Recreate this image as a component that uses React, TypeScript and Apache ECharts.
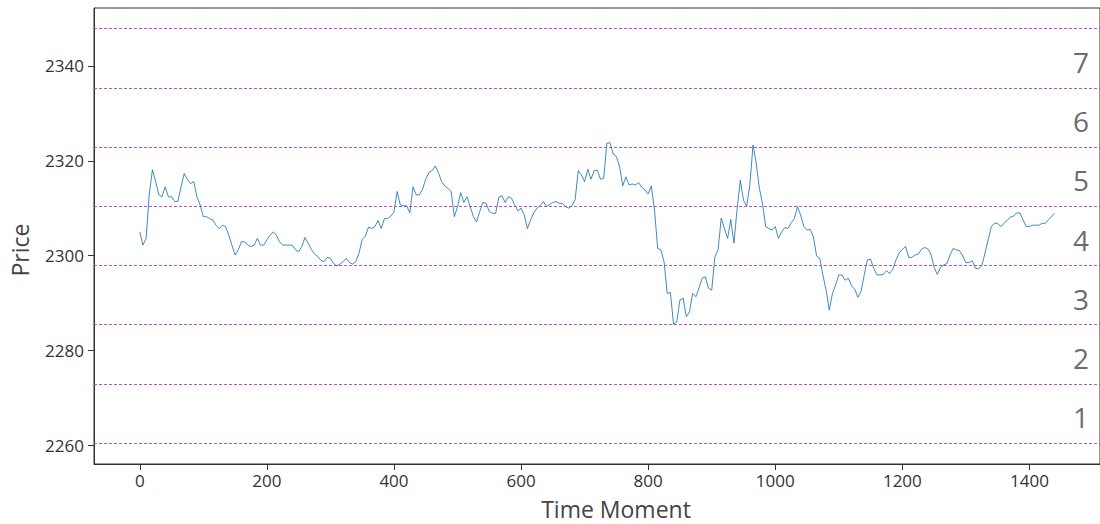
import React, { useEffect, useRef } from "react";
import * as echarts from "echarts";

// Price readings every 5 time moments (last one at 1439)
const PRICES: number[] = [
  2305.0, 2302.2, 2303.6, 2313.0, 2318.1, 2315.6, 2312.8, 2312.4, 2314.5, 2312.4,
  2312.4, 2311.4, 2311.4, 2314.5, 2317.3, 2316.0, 2315.2, 2315.6, 2312.4, 2310.7,
  2308.2, 2308.2, 2307.8, 2307.5, 2306.4, 2305.7, 2306.4, 2306.1, 2304.3, 2302.2,
  2300.1, 2301.2, 2302.9, 2302.9, 2302.2, 2301.9, 2302.2, 2303.6, 2302.2, 2302.2,
  2303.3, 2304.3, 2305.0, 2304.3, 2302.9, 2302.2, 2302.2, 2302.2, 2302.2, 2301.2,
  2300.8, 2301.9, 2303.8, 2302.6, 2301.3, 2300.3, 2299.8, 2299.0, 2298.7, 2299.6,
  2299.4, 2298.3, 2297.8, 2298.2, 2298.7, 2299.4, 2298.5, 2298.2, 2298.7, 2300.5,
  2303.4, 2304.1, 2306.0, 2305.7, 2306.1, 2307.4, 2305.7, 2307.8, 2307.8, 2308.3,
  2309.2, 2313.5, 2310.7, 2310.5, 2310.5, 2309.0, 2314.5, 2312.8, 2312.8, 2314.0,
  2316.1, 2317.5, 2317.9, 2318.9, 2317.5, 2315.6, 2314.7, 2314.2, 2313.5, 2308.2,
  2310.3, 2313.3, 2311.2, 2312.4, 2310.3, 2308.2, 2307.1, 2309.3, 2311.2, 2311.0,
  2309.3, 2308.9, 2308.9, 2312.3, 2312.6, 2311.2, 2312.4, 2312.1, 2310.7, 2309.4,
  2310.0, 2308.6, 2305.7, 2307.5, 2309.0, 2310.0, 2310.5, 2311.4, 2310.3, 2310.8,
  2311.2, 2311.4, 2311.0, 2311.0, 2310.3, 2310.0, 2310.5, 2311.7, 2317.9, 2317.0,
  2315.6, 2318.2, 2316.1, 2317.9, 2318.0, 2316.1, 2316.3, 2323.7, 2323.8, 2321.4,
  2320.9, 2318.8, 2314.7, 2316.6, 2314.9, 2315.1, 2314.9, 2315.4, 2314.4, 2313.8,
  2313.0, 2314.7, 2309.6, 2301.5, 2301.2, 2298.7, 2292.0, 2292.2, 2285.5, 2286.0,
  2290.6, 2291.0, 2287.1, 2288.1, 2292.0, 2291.3, 2293.1, 2295.2, 2295.5, 2293.1,
  2292.7, 2299.7, 2301.2, 2307.9, 2305.7, 2303.6, 2307.6, 2302.6, 2309.9, 2315.9,
  2311.7, 2310.4, 2314.9, 2323.3, 2319.5, 2314.2, 2310.9, 2306.1, 2305.7, 2305.4,
  2306.1, 2303.6, 2305.0, 2305.9, 2305.7, 2306.9, 2307.8, 2310.3, 2308.5, 2306.1,
  2305.4, 2305.5, 2304.0, 2299.9, 2299.4, 2295.9, 2292.7, 2288.5, 2292.0, 2293.8,
  2295.9, 2295.9, 2294.8, 2295.2, 2293.6, 2292.9, 2291.2, 2292.4, 2295.9, 2299.1,
  2299.2, 2297.3, 2295.9, 2295.9, 2296.0, 2296.8, 2296.2, 2297.1, 2299.1, 2300.5,
  2301.3, 2301.9, 2299.6, 2299.6, 2300.1, 2300.3, 2301.3, 2301.7, 2301.4, 2300.3,
  2297.5, 2296.0, 2297.5, 2298.0, 2298.3, 2300.1, 2301.5, 2301.2, 2301.0, 2299.9,
  2298.5, 2298.5, 2298.9, 2297.3, 2297.2, 2297.8, 2300.5, 2303.3, 2306.1, 2306.8,
  2306.8, 2306.1, 2306.8, 2307.5, 2308.1, 2308.3, 2309.0, 2309.0, 2307.5, 2306.1,
  2306.1, 2306.4, 2306.4, 2306.4, 2306.8, 2306.8, 2307.6, 2308.2, 2308.9,
];
const TIMES: number[] = PRICES.map((_, i) => Math.min(i * 5, 1439));

const LEVELS: number[] = [2260.4, 2272.9, 2285.4, 2297.9, 2310.4, 2322.9, 2335.4, 2347.9];
const ZONE_LABELS: string[] = ["1", "2", "3", "4", "5", "6", "7"];
const X_TICKS: number[] = [0, 200, 400, 600, 800, 1000, 1200, 1400];
const Y_TICKS: number[] = [2260, 2280, 2300, 2320, 2340];

const X_TITLE = "Time Moment";
const Y_TITLE = "Price";

export default function App() {
  const ref = useRef<HTMLDivElement>(null);
  useEffect(() => {
    if (!ref.current) return;
    const chart = echarts.init(ref.current, null, { renderer: "svg" });
    const axisColor = "#333";
    const tickFont = {
      fontFamily: "Open Sans",
      fontSize: 17,
      color: "#333",
      formatter: (v: number) => String(v),
    };
    chart.setOption({
      animation: false,
      backgroundColor: "#fff",
      grid: {
        left: 94,
        top: 8,
        right: -5,
        bottom: 60,
        show: true,
        borderColor: axisColor,
        borderWidth: 1,
        backgroundColor: "transparent",
      },
      xAxis: {
        type: "value",
        min: -72,
        max: 1511,
        axisLine: { show: true, onZero: false, lineStyle: { color: axisColor, width: 1 } },
        axisTick: { show: true, length: 6, customValues: X_TICKS, lineStyle: { color: axisColor } },
        axisLabel: { customValues: X_TICKS, margin: 8, ...tickFont },
        splitLine: { show: false },
      },
      yAxis: {
        type: "value",
        min: 2256,
        max: 2352.24,
        axisLine: { show: true, onZero: false, lineStyle: { color: axisColor, width: 1 } },
        axisTick: { show: true, length: 6, customValues: Y_TICKS, lineStyle: { color: axisColor } },
        axisLabel: { customValues: Y_TICKS, margin: 10, ...tickFont },
        splitLine: { show: false },
      },
      graphic: [
        {
          type: "text",
          x: 20,
          y: 250,
          rotation: Math.PI / 2,
          style: {
            text: Y_TITLE,
            fontFamily: "Open Sans",
            fontSize: 23,
            fill: "#444",
            align: "center",
            verticalAlign: "middle",
          },
        },
        {
          type: "text",
          x: 616,
          y: 509,
          style: {
            text: X_TITLE,
            fontFamily: "Open Sans",
            fontSize: 23,
            fill: "#444",
            align: "center",
            verticalAlign: "middle",
          },
        },
      ],
      series: [
        {
          type: "line",
          data: TIMES.map((t, i) => [t, PRICES[i]]),
          showSymbol: false,
          symbol: "none",
          lineStyle: { color: "#1f77b4", width: 1, opacity: 0.85 },
          markLine: {
            silent: true,
            symbol: ["none", "none"],
            label: { show: false },
            lineStyle: { color: "#b040c0", type: [3, 2], width: 1, opacity: 0.9 },
            data: LEVELS.map((v) => ({ yAxis: v })),
          },
          z: 3,
        },
        {
          type: "scatter",
          symbolSize: 1,
          itemStyle: { color: "transparent" },
          data: ZONE_LABELS.map((name, i) => ({
            name,
            value: [1481, (LEVELS[i] + LEVELS[i + 1]) / 2 - 0.8],
          })),
          label: {
            show: true,
            position: "inside",
            formatter: "{b}",
            fontFamily: "Open Sans",
            fontSize: 28,
            color: "#444",
          },
        },
      ],
    });
    return () => chart.dispose();
  }, []);
  return (
    <div
      ref={ref}
      style={{ position: "absolute", left: 0, top: 0, width: 1100, height: 524, background: "#fff" }}
    />
  );
}
